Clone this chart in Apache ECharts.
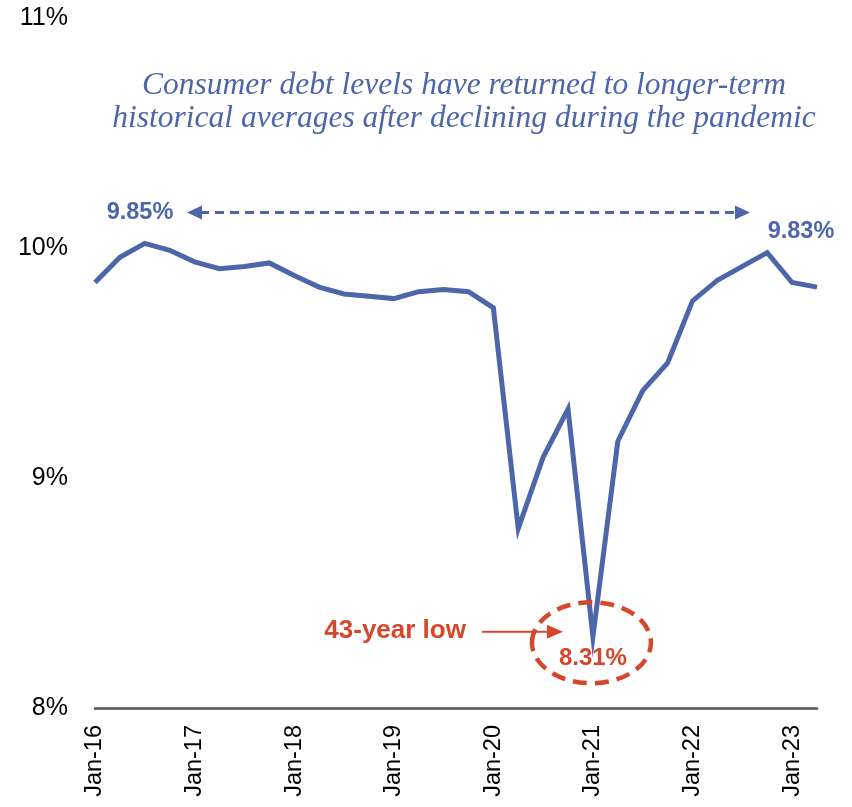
<!DOCTYPE html>
<html>
<head>
<meta charset="utf-8">
<script src="https://cdn.jsdelivr.net/npm/echarts@6/dist/echarts.min.js"></script>
<style>
  html, body { margin: 0; padding: 0; background: #fff; }
  #chart { width: 852px; height: 807px; }
</style>
</head>
<body>
<div id="chart"></div>
<script>
// Quarterly consumer debt service ratio, Q1 2016 – Q2 2023
const quarters = [
  'Jan-16','Apr-16','Jul-16','Oct-16',
  'Jan-17','Apr-17','Jul-17','Oct-17',
  'Jan-18','Apr-18','Jul-18','Oct-18',
  'Jan-19','Apr-19','Jul-19','Oct-19',
  'Jan-20','Apr-20','Jul-20','Oct-20',
  'Jan-21','Apr-21','Jul-21','Oct-21',
  'Jan-22','Apr-22','Jul-22','Oct-22',
  'Jan-23','Apr-23'
];
const debtRatio = [
  9.85, 9.96, 10.02, 9.99,
  9.94, 9.91, 9.92, 9.935,
  9.88, 9.83, 9.80, 9.79,
  9.78, 9.81, 9.82, 9.81,
  9.74, 8.78, 9.09, 9.30,
  8.31, 9.16, 9.38, 9.50,
  9.77, 9.86, 9.92, 9.98,
  9.85, 9.83
];
const yTicks = [8, 9, 10, 11];
const titleLines = [
  'Consumer debt levels have returned to longer-term',
  'historical averages after declining during the pandemic'
];

const BLUE = '#4D66A9';
const RED = '#D4472A';
const SANS = '"Liberation Sans", Arial, sans-serif';

const chart = echarts.init(document.getElementById('chart'));
chart.setOption({
  animation: false,
  grid: { left: 95, right: 35, top: 18, bottom: 99 },
  xAxis: {
    type: 'category',
    data: quarters,
    boundaryGap: false,
    axisLine: { lineStyle: { color: '#555', width: 2.5 } },
    axisTick: { show: false },
    axisLabel: {
      interval: 3,
      rotate: 90,
      margin: 17,
      color: '#000',
      fontFamily: SANS,
      fontSize: 23.5
    }
  },
  yAxis: {
    type: 'value',
    min: yTicks[0],
    max: yTicks[yTicks.length - 1],
    interval: 1,
    splitLine: { show: false },
    axisLine: { show: false },
    axisTick: { show: false },
    axisLabel: {
      formatter: '{value}%',
      color: '#000',
      fontFamily: SANS,
      fontSize: 25,
      margin: 27
    }
  },
  series: [{
    type: 'line',
    data: debtRatio,
    symbol: 'none',
    lineStyle: { color: BLUE, width: 5, join: 'miter' }
  }]
});

// Annotations placed relative to the data points they describe
function px(i) { return chart.convertToPixel({ seriesIndex: 0 }, [i, debtRatio[i]]); }
const first = px(0);
const last = px(debtRatio.length - 1);
const lowIdx = debtRatio.indexOf(Math.min(...debtRatio));
const low = px(lowIdx);
const fmt = v => v.toFixed(2) + '%';

const arrowY = first[1] - 70;
const leftTip = first[0] + 92;
const rightTip = last[0] - 67;
const head = 15, half = 7;
const titleFont = 'italic 31.5px "Liberation Serif", Georgia, serif';
const labelFont = 'bold 23.5px ' + SANS;
const redFont = 'bold 24px ' + SANS;

const graphics = [
  // two-line centred subtitle
  {
    type: 'text', z: 10, x: 464, y: 86,
    style: { text: titleLines[0], fill: BLUE, font: titleFont, align: 'center', verticalAlign: 'middle' }
  },
  {
    type: 'text', z: 10, x: 464, y: 119,
    style: { text: titleLines[1], fill: BLUE, font: titleFont, align: 'center', verticalAlign: 'middle' }
  },
  // start / end labels
  {
    type: 'text', z: 10,
    x: first[0] + 45, y: arrowY,
    style: { text: fmt(debtRatio[0]), fill: BLUE, font: labelFont, align: 'center', verticalAlign: 'middle' }
  },
  {
    type: 'text', z: 10,
    x: last[0] - 16, y: last[1] - 56,
    style: { text: fmt(debtRatio[debtRatio.length - 1]), fill: BLUE, font: labelFont, align: 'center', verticalAlign: 'middle' }
  },
  // dashed double arrow
  {
    type: 'line', z: 10,
    shape: { x1: leftTip + head - 2, y1: arrowY, x2: rightTip - head + 2, y2: arrowY },
    style: { stroke: BLUE, lineWidth: 3, lineDash: [9, 6] }
  },
  {
    type: 'polygon', z: 10,
    shape: { points: [[leftTip, arrowY], [leftTip + head, arrowY - half], [leftTip + head, arrowY + half]] },
    style: { fill: BLUE }
  },
  {
    type: 'polygon', z: 10,
    shape: { points: [[rightTip, arrowY], [rightTip - head, arrowY - half], [rightTip - head, arrowY + half]] },
    style: { fill: BLUE }
  },
  // low point callout
  {
    type: 'ellipse', z: 10,
    shape: { cx: low[0] - 1.5, cy: low[1] + 6, rx: 59.5, ry: 40.5 },
    style: { fill: null, stroke: RED, lineWidth: 4.5, lineDash: [14, 8] }
  },
  {
    type: 'text', z: 11,
    x: low[0], y: low[1] + 22,
    style: { text: fmt(debtRatio[lowIdx]), fill: RED, font: redFont, align: 'center', verticalAlign: 'middle' }
  },
  {
    type: 'text', z: 11,
    x: low[0] - 127, y: low[1] - 6,
    style: { text: '43-year low', fill: RED, font: 'bold 26px ' + SANS, align: 'right', verticalAlign: 'middle' }
  },
  {
    type: 'line', z: 11,
    shape: { x1: low[0] - 111, y1: low[1] - 5, x2: low[0] - 42, y2: low[1] - 5 },
    style: { stroke: RED, lineWidth: 2 }
  },
  {
    type: 'polygon', z: 11,
    shape: { points: [[low[0] - 30, low[1] - 5], [low[0] - 46, low[1] - 12], [low[0] - 46, low[1] + 2]] },
    style: { fill: RED }
  }
];
chart.setOption({ graphic: graphics });
</script>
</body>
</html>
